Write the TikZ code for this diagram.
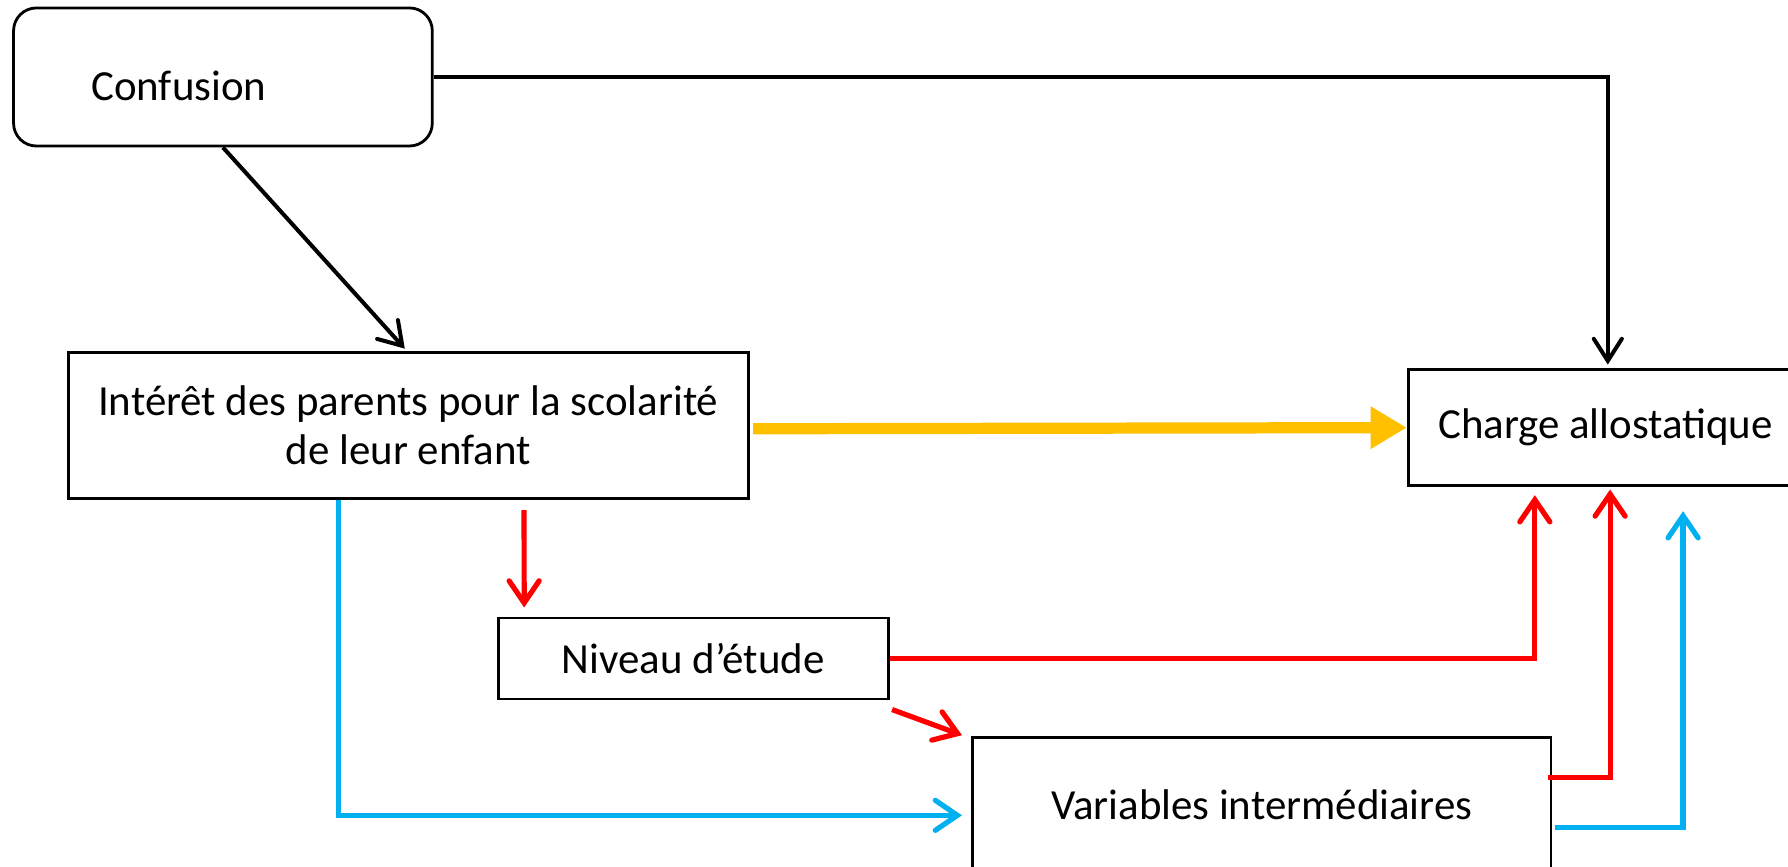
\documentclass[tikz,border=0pt]{standalone}
\usepackage{fontspec}
\setmainfont{Carlito}
\usetikzlibrary{arrows.meta,calc}
\definecolor{cred}{HTML}{FF0000}
\definecolor{cblue}{HTML}{00B0F0}
\definecolor{cyellow}{HTML}{FFC000}
\tikzset{
  box/.style={draw=black,line width=0.7pt,rectangle,inner sep=0pt,align=center,font=\fontsize{10.7}{12.3}\selectfont},
  blackarrow/.style={draw=black,line width=1pt,-{Straight Barb[length=5.5pt,width=7pt,line cap=round]}},
  redarrow/.style={draw=cred,line width=1.3pt,-{Straight Barb[length=5.5pt,width=7.5pt,line cap=round]}},
  bluearrow/.style={draw=cblue,line width=1.3pt,-{Straight Barb[length=5.5pt,width=7.5pt,line cap=round]}},
  yellowarrow/.style={draw=cyellow,line width=2.8pt,-{Triangle[length=9pt,width=10pt]}},
}
\begin{document}
\begin{tikzpicture}[x=0.01cm,y=-0.01cm]
\useasboundingbox (0,0) rectangle (1568,760);
\fill[white] (0,0) rectangle (1568,760);
% nodes
\node[box,rounded corners=0.2cm,minimum width=3.67cm,minimum height=1.21cm,text width=2.31cm,align=left,inner xsep=0.68cm,text height=0.41cm,text depth=0cm] (conf) at (195.5,67.5) {Confusion};
\node[box,minimum width=5.96cm,minimum height=1.28cm] (int) at (358,373) {Intérêt des parents pour la scolarité\\de leur enfant};
\node[box,minimum width=3.46cm,minimum height=1.02cm] (ch) at (1408,375) {Charge allostatique};
\node[box,minimum width=3.42cm,minimum height=0.71cm] (niv) at (608,577.5) {Niveau d’étude};
\node[box,minimum width=5.07cm,minimum height=1.18cm] (var) at (1106.5,706) {Variables intermédiaires};
% connectors
\draw[blackarrow] (conf.south) -- ($(int.north)+(-3,-2)$);
\draw[blackarrow] (conf.east) -| ($(ch.north)+(2,-3)$);
\draw[yellowarrow] ($(int.east)+(3,3)$) -- (ch.west);
\draw[redarrow] ($(int.south west)+(401,9)$) -- ($(niv.north west)+(24,-8)$);
\draw[redarrow] (niv.east) -| ($(ch.south)+(-62,7)$);
\draw[redarrow] ($(niv.south east)+(2,8)$) -- ($(var.north west)+(-8,-1)$);
\draw[redarrow] ($(var.east)+(-4,-24)$) -| ($(ch.south)+(4,2)$);
\draw[bluearrow] ($(var.east)+(2,20)$) -| ($(ch.south)+(68,21)$);
\draw[bluearrow] ($(int.south west)+(238,0)$) |- ($(var.west)+(-8,9)$);
\end{tikzpicture}
\end{document}
